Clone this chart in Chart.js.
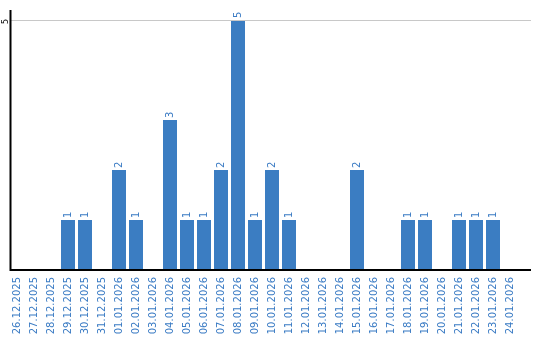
<!DOCTYPE html>
<html>
<head>
<meta charset="utf-8">
<script src="https://cdn.jsdelivr.net/npm/chart.js@4/dist/chart.umd.min.js"></script>
<style>
  html, body { margin: 0; padding: 0; background: #fff; }
  #wrap { width: 540px; height: 340px; }
</style>
</head>
<body>
<div id="wrap"><canvas id="chart" width="540" height="340"></canvas></div>
<script>
const days = [
    "26.12.2025", "27.12.2025", "28.12.2025", "29.12.2025", "30.12.2025", "31.12.2025",
    "01.01.2026", "02.01.2026", "03.01.2026", "04.01.2026", "05.01.2026", "06.01.2026",
    "07.01.2026", "08.01.2026", "09.01.2026", "10.01.2026", "11.01.2026", "12.01.2026",
    "13.01.2026", "14.01.2026", "15.01.2026", "16.01.2026", "17.01.2026", "18.01.2026",
    "19.01.2026", "20.01.2026", "21.01.2026", "22.01.2026", "23.01.2026", "24.01.2026"
];
const counts = [
    0, 0, 0, 1, 1, 0,
    2, 1, 0, 3, 1, 1,
    2, 5, 1, 2, 1, 0,
    0, 0, 2, 0, 0, 1,
    1, 0, 1, 1, 1, 0
];
const yTicks = [5];

const barColor = "#3b7dc2";
const textColor = "#3a7bc4";

// axis lines, grid line, y tick and value labels
const decorations = {
    id: "decorations",
    afterDatasetsDraw(chart) {
        const ctx = chart.ctx;
        const x = chart.scales.x;
        const y = chart.scales.y;
        const area = chart.chartArea;
        const base = y.getPixelForValue(0);

        ctx.save();
        ctx.lineWidth = 1;
        ctx.strokeStyle = "#c8c8c8";
        yTicks.forEach(function (t) {
            const py = Math.round(y.getPixelForValue(t)) + 0.5;
            ctx.beginPath();
            ctx.moveTo(11, py);
            ctx.lineTo(531, py);
            ctx.stroke();

            ctx.save();
            ctx.translate(5.5, py + 1);
            ctx.rotate(-Math.PI / 2);
            ctx.fillStyle = "#000";
            ctx.font = "8px 'DejaVu Sans'";
            ctx.textAlign = "center";
            ctx.textBaseline = "middle";
            ctx.fillText(String(t), 0, 0);
            ctx.restore();
        });

        ctx.strokeStyle = "#000";
        ctx.lineWidth = 2;
        ctx.beginPath();
        ctx.moveTo(10.5, area.top);
        ctx.lineTo(10.5, base + 1);
        ctx.moveTo(9.5, base);
        ctx.lineTo(531, base);
        ctx.stroke();

        ctx.fillStyle = textColor;
        ctx.font = "10px 'DejaVu Sans'";
        ctx.textAlign = "left";
        ctx.textBaseline = "middle";
        counts.forEach(function (v, i) {
            if (!v) return;
            const px = x.getPixelForValue(i);
            const py = y.getPixelForValue(v);
            ctx.save();
            ctx.translate(px, py - 2);
            ctx.rotate(-Math.PI / 2);
            ctx.fillText(String(v), 0, 0);
            ctx.restore();
        });
        ctx.restore();
    }
};

new Chart(document.getElementById("chart"), {
    type: "bar",
    data: {
        labels: days,
        datasets: [{
            data: counts,
            backgroundColor: barColor,
            borderWidth: 0,
            barPercentage: 1,
            categoryPercentage: 14 / 17
        }]
    },
    options: {
        responsive: false,
        animation: false,
        layout: { padding: { top: 10, right: 21.5, left: 0, bottom: 0 } },
        plugins: {
            legend: { display: false },
            tooltip: { enabled: false }
        },
        scales: {
            x: {
                grid: { display: false, drawTicks: false },
                border: { display: false },
                ticks: {
                    color: textColor,
                    font: { family: "DejaVu Sans", size: 10 },
                    minRotation: 90,
                    maxRotation: 90,
                    autoSkip: false,
                    padding: 7
                },
                afterFit(scale) { scale.height = 70; }
            },
            y: {
                min: 0,
                max: 5.2,
                grid: { display: false },
                border: { display: false },
                ticks: { display: false },
                afterFit(scale) { scale.width = 8.5; }
            }
        }
    },
    plugins: [decorations]
});
</script>
</body>
</html>
